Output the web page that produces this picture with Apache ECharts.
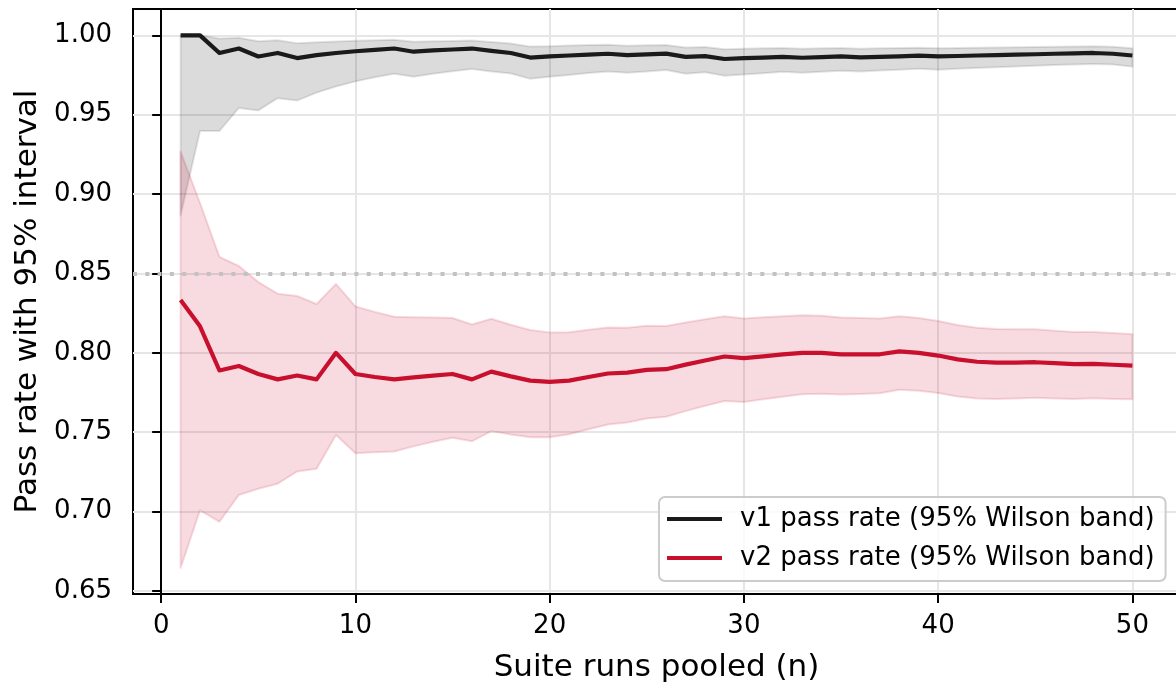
<!DOCTYPE html>
<html>
<head>
<meta charset="utf-8">
<title>Pass rate with 95% Wilson band</title>
<script src="https://cdn.jsdelivr.net/npm/echarts@6/dist/echarts.min.js"></script>
<style>
  html, body { margin: 0; padding: 0; background: #fff; }
  #chart { width: 1176px; height: 684px; }
</style>
</head>
<body>
<div id="chart"></div>
<script>
// suite runs pooled
var runs = [1, 2, 3, 4, 5, 6, 7, 8, 9, 10,
  11, 12, 13, 14, 15, 16, 17, 18, 19, 20,
  21, 22, 23, 24, 25, 26, 27, 28, 29, 30,
  31, 32, 33, 34, 35, 36, 37, 38, 39, 40,
  41, 42, 43, 44, 45, 46, 47, 48, 49, 50];

// v1 pass rate + wilson band
var v1Rate = [1.0000, 1.0000, 0.9889, 0.9917, 0.9867, 0.9889, 0.9857, 0.9875, 0.9889, 0.9900,
  0.9909, 0.9917, 0.9897, 0.9905, 0.9911, 0.9917, 0.9902, 0.9889, 0.9860, 0.9867,
  0.9873, 0.9879, 0.9884, 0.9875, 0.9880, 0.9885, 0.9864, 0.9869, 0.9851, 0.9856,
  0.9860, 0.9865, 0.9859, 0.9863, 0.9867, 0.9861, 0.9865, 0.9868, 0.9872, 0.9867,
  0.9870, 0.9873, 0.9876, 0.9879, 0.9881, 0.9884, 0.9887, 0.9889, 0.9884, 0.9873];
var v1Lo = [0.8865, 0.9398, 0.9397, 0.9543, 0.9527, 0.9604, 0.9589, 0.9639, 0.9678, 0.9710,
  0.9736, 0.9758, 0.9739, 0.9758, 0.9774, 0.9788, 0.9773, 0.9760, 0.9726, 0.9739,
  0.9751, 0.9763, 0.9773, 0.9764, 0.9773, 0.9782, 0.9758, 0.9767, 0.9746, 0.9754,
  0.9762, 0.9770, 0.9764, 0.9771, 0.9777, 0.9772, 0.9778, 0.9784, 0.9790, 0.9784,
  0.9790, 0.9795, 0.9799, 0.9804, 0.9808, 0.9813, 0.9816, 0.9820, 0.9816, 0.9803];
var v1Hi = [1.0000, 1.0000, 0.9980, 0.9985, 0.9963, 0.9969, 0.9951, 0.9957, 0.9962, 0.9966,
  0.9969, 0.9972, 0.9960, 0.9963, 0.9965, 0.9968, 0.9958, 0.9949, 0.9929, 0.9932,
  0.9936, 0.9939, 0.9941, 0.9934, 0.9937, 0.9939, 0.9924, 0.9927, 0.9912, 0.9915,
  0.9918, 0.9921, 0.9916, 0.9918, 0.9920, 0.9916, 0.9918, 0.9920, 0.9922, 0.9918,
  0.9920, 0.9922, 0.9923, 0.9925, 0.9927, 0.9928, 0.9930, 0.9932, 0.9928, 0.9919];

// v2 pass rate + wilson band
var v2Rate = [0.8333, 0.8167, 0.7889, 0.7917, 0.7867, 0.7833, 0.7857, 0.7833, 0.8000, 0.7867,
  0.7848, 0.7833, 0.7846, 0.7857, 0.7867, 0.7833, 0.7882, 0.7852, 0.7825, 0.7817,
  0.7825, 0.7848, 0.7870, 0.7875, 0.7893, 0.7897, 0.7926, 0.7952, 0.7977, 0.7967,
  0.7978, 0.7990, 0.8000, 0.8000, 0.7990, 0.7991, 0.7991, 0.8009, 0.8000, 0.7983,
  0.7959, 0.7944, 0.7938, 0.7939, 0.7941, 0.7935, 0.7929, 0.7931, 0.7925, 0.7920];
var v2Lo = [0.6645, 0.7008, 0.6936, 0.7105, 0.7144, 0.7176, 0.7253, 0.7270, 0.7482, 0.7368,
  0.7374, 0.7379, 0.7411, 0.7440, 0.7465, 0.7443, 0.7507, 0.7486, 0.7468, 0.7469,
  0.7487, 0.7519, 0.7549, 0.7561, 0.7587, 0.7598, 0.7633, 0.7666, 0.7697, 0.7691,
  0.7708, 0.7724, 0.7739, 0.7743, 0.7737, 0.7741, 0.7745, 0.7767, 0.7761, 0.7747,
  0.7725, 0.7713, 0.7709, 0.7713, 0.7717, 0.7713, 0.7710, 0.7714, 0.7710, 0.7707];
var v2Hi = [0.9268, 0.8944, 0.8605, 0.8547, 0.8446, 0.8373, 0.8358, 0.8308, 0.8434, 0.8292,
  0.8258, 0.8228, 0.8225, 0.8223, 0.8220, 0.8179, 0.8215, 0.8177, 0.8144, 0.8129,
  0.8130, 0.8145, 0.8159, 0.8158, 0.8170, 0.8169, 0.8191, 0.8212, 0.8231, 0.8217,
  0.8224, 0.8231, 0.8237, 0.8234, 0.8222, 0.8219, 0.8216, 0.8230, 0.8219, 0.8201,
  0.8175, 0.8158, 0.8150, 0.8149, 0.8148, 0.8140, 0.8132, 0.8132, 0.8125, 0.8118];

var threshold = 0.85;

var xTicks = [0, 10, 20, 30, 40, 50];
var xTickLabels = ['0', '10', '20', '30', '40', '50'];
var yTicks = [0.65, 0.70, 0.75, 0.80, 0.85, 0.90, 0.95, 1.00];
var yTickLabels = ['0.65', '0.70', '0.75', '0.80', '0.85', '0.90', '0.95', '1.00'];

var v1Name = 'v1 pass rate (95% Wilson band)';
var v2Name = 'v2 pass rate (95% Wilson band)';

function pairs(ys) {
  return runs.map(function (n, i) { return [n, ys[i]]; });
}
function bandRows(lo, hi) {
  return runs.map(function (n, i) { return [n, lo[i], hi[i]]; });
}
// whole band drawn as one polygon (upper edge forward, lower edge back)
function bandRenderer(lo, hi, fill, edge) {
  return function (params, api) {
    if (params.dataIndex !== 0) return null;
    var pts = [];
    for (var i = 0; i < runs.length; i++) pts.push(api.coord([runs[i], hi[i]]));
    for (var j = runs.length - 1; j >= 0; j--) pts.push(api.coord([runs[j], lo[j]]));
    return {
      type: 'polygon',
      shape: { points: pts },
      style: { fill: fill, stroke: edge, lineWidth: 2, lineJoin: 'round' }
    };
  };
}
function tickLabel(ticks, labels) {
  return function (v) {
    var best = 0;
    for (var i = 1; i < ticks.length; i++) {
      if (Math.abs(ticks[i] - v) < Math.abs(ticks[best] - v)) best = i;
    }
    return labels[best];
  };
}

var font = 'DejaVu Sans';
var chart = echarts.init(document.getElementById('chart'), null, { renderer: 'canvas' });

var option = {
  animation: false,
  backgroundColor: '#ffffff',
  textStyle: { fontFamily: font, color: '#000' },
  grid: {
    left: 133, top: 9, width: 1047, height: 585,
    show: true, borderColor: '#000', borderWidth: 2, backgroundColor: 'transparent',
    containLabel: false, outerBoundsMode: 'none'
  },
  legend: {
    data: [
      { name: v1Name, icon: 'rect' },
      { name: v2Name, icon: 'rect' }
    ],
    orient: 'vertical',
    left: 659, top: 497,
    padding: [9, 11, 10, 8],
    itemWidth: 55, itemHeight: 4, itemGap: 13,
    itemStyle: { borderWidth: 0 },
    backgroundColor: 'rgba(255,255,255,0.8)',
    borderColor: '#cccccc', borderWidth: 2, borderRadius: 6,
    selectedMode: false,
    textStyle: { fontFamily: font, fontSize: 26, color: '#000', lineHeight: 26, padding: [0, 0, 0, 13] }
  },
  xAxis: {
    type: 'value', min: -1.45, max: 52.45,
    name: 'Suite runs pooled (n)', nameLocation: 'middle', nameGap: 58,
    nameTextStyle: { fontFamily: font, fontSize: 31, color: '#000' },
    axisLine: { show: true, onZero: false, lineStyle: { color: '#000', width: 2 } },
    axisTick: { show: true, customValues: xTicks, length: 9, lineStyle: { color: '#000', width: 2 } },
    axisLabel: {
      customValues: xTicks, margin: 19, fontFamily: font, fontSize: 26, color: '#000',
      formatter: tickLabel(xTicks, xTickLabels)
    },
    splitLine: { show: true, customValues: xTicks, lineStyle: { color: '#e6e6e6', width: 2 } }
  },
  yAxis: {
    type: 'value', min: 0.6481, max: 1.0166,
    name: 'Pass rate with 95% interval', nameLocation: 'middle', nameGap: 90,
    nameTextStyle: { fontFamily: font, fontSize: 31, color: '#000' },
    axisLine: { show: true, lineStyle: { color: '#000', width: 2 } },
    axisTick: { show: true, customValues: yTicks, length: 9, lineStyle: { color: '#000', width: 2 } },
    axisLabel: {
      customValues: yTicks, margin: 21, fontFamily: font, fontSize: 26, color: '#000',
      formatter: tickLabel(yTicks, yTickLabels)
    },
    splitLine: { show: true, customValues: yTicks, lineStyle: { color: '#e6e6e6', width: 2 } }
  },
  series: [
    {
      name: 'v1 band', type: 'custom', silent: true,
      data: bandRows(v1Lo, v1Hi), encode: { x: 0, y: [1, 2] },
      renderItem: bandRenderer(v1Lo, v1Hi, 'rgba(0,0,0,0.14)', 'rgba(0,0,0,0.10)')
    },
    {
      name: v1Name, type: 'line', data: pairs(v1Rate),
      symbol: 'none', silent: true,
      lineStyle: { color: '#1a1a1a', width: 4.2, join: 'round' },
      itemStyle: { color: '#1a1a1a' }
    },
    {
      name: 'v2 band', type: 'custom', silent: true,
      data: bandRows(v2Lo, v2Hi), encode: { x: 0, y: [1, 2] },
      renderItem: bandRenderer(v2Lo, v2Hi, 'rgba(200,16,46,0.15)', 'rgba(200,16,46,0.14)')
    },
    {
      name: v2Name, type: 'line', data: pairs(v2Rate),
      symbol: 'none', silent: true,
      lineStyle: { color: '#c8102e', width: 4.2, join: 'round' },
      itemStyle: { color: '#c8102e' },
      markLine: {
        silent: true, symbol: ['none', 'none'], label: { show: false },
        lineStyle: { color: '#c2c2c2', width: 4, type: [4, 8.3] },
        data: [{ yAxis: threshold }]
      }
    }
  ]
};

chart.setOption(option);
</script>
</body>
</html>
